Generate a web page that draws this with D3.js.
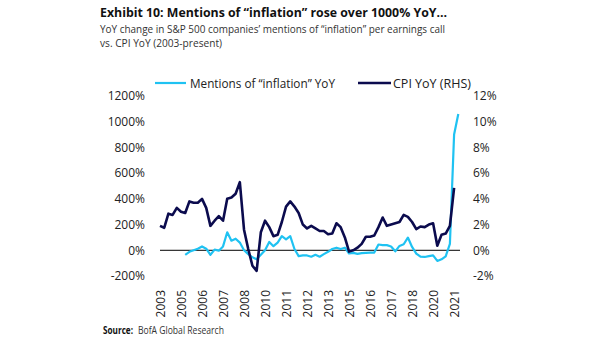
<!DOCTYPE html>
<html>
<head>
<meta charset="utf-8">
<script src="https://cdn.jsdelivr.net/npm/d3@7"></script>
<style>
  body { margin: 0; background: #fff; }
  svg { display: block; }
  text { font-family: "Open Sans", "Noto Sans", sans-serif; }
</style>
</head>
<body>
<svg id="chart" width="605" height="341"></svg>
<script>
// Quarterly categories, 2003Q4 through 2021Q3
const quarters = [
  "2003Q4",
  "2004Q1","2004Q2","2004Q3","2004Q4",
  "2005Q1","2005Q2","2005Q3","2005Q4",
  "2006Q1","2006Q2","2006Q3","2006Q4",
  "2007Q1","2007Q2","2007Q3","2007Q4",
  "2008Q1","2008Q2","2008Q3","2008Q4",
  "2009Q1","2009Q2","2009Q3","2009Q4",
  "2010Q1","2010Q2","2010Q3","2010Q4",
  "2011Q1","2011Q2","2011Q3","2011Q4",
  "2012Q1","2012Q2","2012Q3","2012Q4",
  "2013Q1","2013Q2","2013Q3","2013Q4",
  "2014Q1","2014Q2","2014Q3","2014Q4",
  "2015Q1","2015Q2","2015Q3","2015Q4",
  "2016Q1","2016Q2","2016Q3","2016Q4",
  "2017Q1","2017Q2","2017Q3","2017Q4",
  "2018Q1","2018Q2","2018Q3","2018Q4",
  "2019Q1","2019Q2","2019Q3","2019Q4",
  "2020Q1","2020Q2","2020Q3","2020Q4",
  "2021Q1","2021Q2","2021Q3"
];

// YoY change in mentions of "inflation" per earnings call (%, left axis)
const mentionsYoY = [
  null,
  null, null, null, null,
  null, -35, -12, 0,
  12, 30, 12, -35,
  5, -3, 30, 140,
  75, 90, 60, 0,
  -30, -55, -70, -35,
  0, 65, 32, 60,
  110, 85, 110, 10,
  -45, -40, -40, -50,
  -35, -50, -30, -12,
  10, 20, 10, 20,
  -25, -20, -28, -22,
  -20, -18, -18, 45,
  40, 40, 30, -8,
  34, 47, 99, 26,
  -26, -50, -52, -45,
  -40, -83, -70, -47,
  50, 900, 1060
];

// CPI YoY (%, right axis)
const cpiYoY = [
  1.9,
  1.75, 2.85, 2.75, 3.3,
  3.0, 2.9, 3.8, 3.7,
  3.7, 4.0, 3.3, 1.9,
  2.3, 2.65, 2.3, 4.0,
  4.1, 4.4, 5.3, 1.6,
  0.1, -1.2, -1.6, 1.4,
  2.3, 1.8, 1.1, 1.2,
  2.2, 3.4, 3.8, 3.4,
  2.9, 2.0, 1.7, 1.9,
  1.7, 1.5, 1.5, 1.25,
  1.3, 2.1, 1.8, 1.0,
  -0.1, 0.0, 0.2, 0.5,
  1.05, 1.05, 1.15, 1.8,
  2.55, 1.9, 2.0, 2.1,
  2.2, 2.75, 2.6, 2.2,
  1.65, 1.85, 1.8, 2.0,
  2.1, 0.35, 1.2, 1.3,
  1.9, 4.85, null
];

const leftTicks = [-200, 0, 200, 400, 600, 800, 1000, 1200];
const rightTicks = [-2, 0, 2, 4, 6, 8, 10, 12];
const yearTickQuarters = [
  "2003Q4","2005Q1","2006Q2","2007Q3","2008Q4","2010Q1","2011Q2","2012Q3",
  "2013Q4","2015Q1","2016Q2","2017Q3","2018Q4","2020Q1","2021Q2"
];

const COLOR_MENTIONS = "#1fc2f2";
const COLOR_CPI = "#0b0b4e";

const svg = d3.select("#chart");

const x = d3.scalePoint().domain(quarters).range([160, 458.3]);
const yL = d3.scaleLinear().domain([-200, 1200]).range([276, 96]);
const yR = d3.scaleLinear().domain([-2, 12]).range([276, 96]);

// Heading
svg.append("text")
  .attr("x", 100).attr("y", 17)
  .attr("font-size", 12.5).attr("font-weight", 700).attr("fill", "#111")
  .attr("textLength", 347).attr("lengthAdjust", "spacingAndGlyphs")
  .text("Exhibit 10: Mentions of \u201cinflation\u201d rose over 1000% YoY\u2026");

// Subheading, two lines
svg.append("text")
  .attr("x", 100).attr("y", 32.5)
  .attr("font-size", 10).attr("fill", "#333")
  .attr("textLength", 345).attr("lengthAdjust", "spacingAndGlyphs")
  .text("YoY change in S&P 500 companies\u2019 mentions of \u201cinflation\u201d per earnings call");
svg.append("text")
  .attr("x", 100).attr("y", 46.5)
  .attr("font-size", 10).attr("fill", "#333")
  .attr("textLength", 122).attr("lengthAdjust", "spacingAndGlyphs")
  .text("vs. CPI YoY (2003-present)");

// Legend
const legend = svg.append("g");
legend.append("line").attr("x1", 155).attr("x2", 186).attr("y1", 83).attr("y2", 83)
  .attr("stroke", COLOR_MENTIONS).attr("stroke-width", 2.2);
legend.append("text").attr("x", 190).attr("y", 87.5)
  .attr("font-size", 12).attr("fill", "#222")
  .attr("textLength", 145).attr("lengthAdjust", "spacingAndGlyphs")
  .text("Mentions of \u201cinflation\u201d YoY");
legend.append("line").attr("x1", 358).attr("x2", 391).attr("y1", 83).attr("y2", 83)
  .attr("stroke", COLOR_CPI).attr("stroke-width", 2.6);
legend.append("text").attr("x", 393).attr("y", 87.5)
  .attr("font-size", 12).attr("fill", "#222")
  .attr("textLength", 78).attr("lengthAdjust", "spacingAndGlyphs")
  .text("CPI YoY (RHS)");

// Left axis
const axL = svg.append("g").attr("transform", "translate(145,0)")
  .call(d3.axisLeft(yL).tickValues(leftTicks).tickSize(0).tickPadding(0)
    .tickFormat(d => d + "%"));
axL.select(".domain").remove();
axL.selectAll("text").attr("font-size", 12).attr("fill", "#222")
  .style("font-family", "\"Open Sans\", sans-serif");

// Right axis
const axR = svg.append("g").attr("transform", "translate(473,0)")
  .call(d3.axisRight(yR).tickValues(rightTicks).tickSize(0).tickPadding(0)
    .tickFormat(d => d + "%"));
axR.select(".domain").remove();
axR.selectAll("text").attr("font-size", 12).attr("fill", "#222")
  .style("font-family", "\"Open Sans\", sans-serif");

// Category labels (rotated years)
const axX = svg.append("g").attr("transform", "translate(0,290)")
  .call(d3.axisBottom(x).tickValues(yearTickQuarters).tickSize(0)
    .tickFormat(q => q.slice(0, 4)));
axX.select(".domain").remove();
axX.selectAll("text")
  .attr("transform", "rotate(-90)")
  .attr("x", 0).attr("y", 0).attr("dy", "0.36em")
  .style("text-anchor", "end")
  .style("font-family", "\"Open Sans\", sans-serif")
  .attr("font-size", 12).attr("fill", "#222");

// Zero line
const [x0, x1] = x.range();
svg.append("line")
  .attr("x1", x0).attr("x2", x1 + 1.7)
  .attr("y1", yL(0)).attr("y2", yL(0))
  .attr("stroke", "#000").attr("stroke-width", 1);

// Series
const mentionsLine = d3.line()
  .defined(d => d != null)
  .x((d, i) => x(quarters[i]))
  .y(d => yL(d));
const cpiLine = d3.line()
  .defined(d => d != null)
  .x((d, i) => x(quarters[i]))
  .y(d => yR(d));

svg.append("path").datum(mentionsYoY)
  .attr("d", mentionsLine)
  .attr("fill", "none").attr("stroke", COLOR_MENTIONS)
  .attr("stroke-width", 2.2).attr("stroke-linejoin", "round");

svg.append("path").datum(cpiYoY)
  .attr("d", cpiLine)
  .attr("fill", "none").attr("stroke", COLOR_CPI)
  .attr("stroke-width", 2.6).attr("stroke-linejoin", "round");

// Source
svg.append("text").attr("x", 103).attr("y", 334)
  .attr("font-size", 10).attr("font-weight", 700).attr("fill", "#111")
  .attr("textLength", 30).attr("lengthAdjust", "spacingAndGlyphs")
  .text("Source:");
svg.append("text").attr("x", 138).attr("y", 334)
  .attr("font-size", 10).attr("fill", "#333")
  .attr("textLength", 86).attr("lengthAdjust", "spacingAndGlyphs")
  .text("BofA Global Research");
</script>
</body>
</html>
